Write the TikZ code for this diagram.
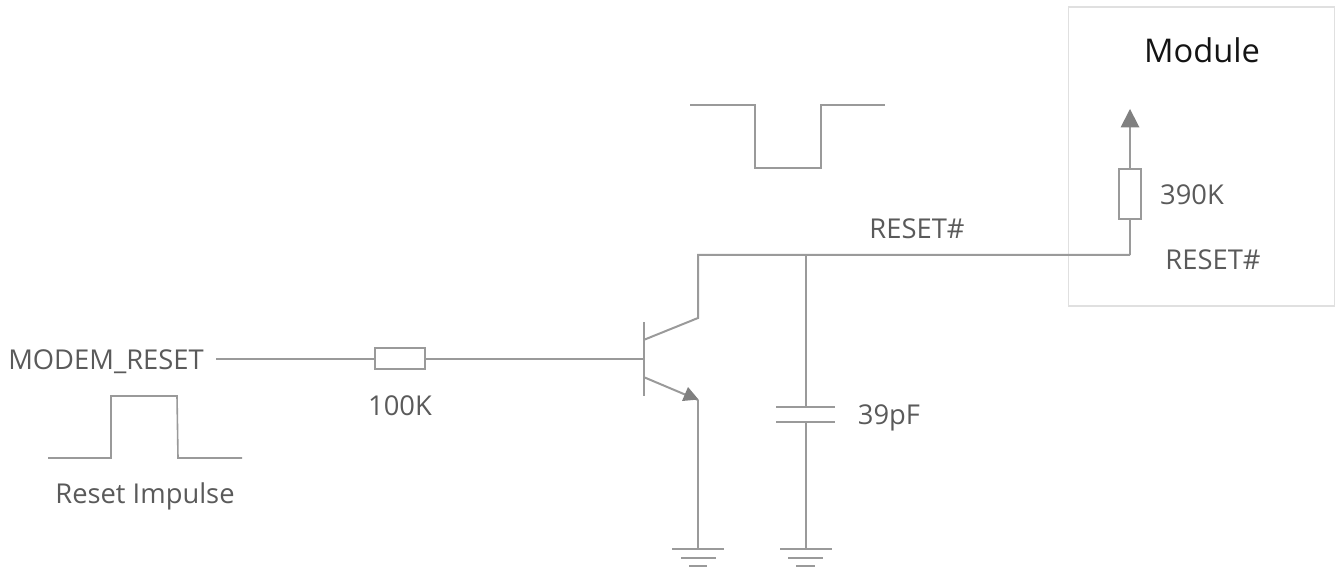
\documentclass[tikz,border=0pt]{standalone}
\usepackage{fontspec}
\setmainfont{Open Sans}
\begin{document}
\begin{tikzpicture}[x=0.75pt,y=-0.75pt,
  wire/.style={draw=wireclr,line width=1.5pt,line join=miter},
  thinwire/.style={draw=wireclr,line width=1.2pt},
  res/.style={draw=wireclr,line width=1.2pt,fill=white,rectangle,inner sep=0pt,minimum width=#1},
  lbl/.style={text=lblclr,font=\fontsize{20.5}{24}\selectfont,inner sep=0pt,anchor=base},
  tip/.style={draw=none,fill=tipclr}]
\definecolor{wireclr}{HTML}{9A9A9A}
\definecolor{tipclr}{HTML}{808080}
\definecolor{lblclr}{HTML}{5A5A5A}
\useasboundingbox (0,0) rectangle (1338,570);
% module box
\node[draw=black!12,line width=1.2pt,minimum width=199.5pt,minimum height=224.25pt,inner sep=0pt,anchor=north west] (box) at (1067.5,6) {};
\node[lbl,text=black!92,font=\fontsize{24.5}{28}\selectfont] (modt) at (1202,63) {Module};
% labels
\node[lbl,anchor=base west] (mr) at (8,369) {MODEM\_RESET};
\node[lbl] (l100) at (400,415) {100K};
\node[lbl] (imp) at (145,503) {Reset Impulse};
\node[lbl] (l39) at (889,424) {39pF};
\node[lbl] (rs1) at (917,239) {RESET\#};
\node[lbl] (rs2) at (1213,270) {RESET\#};
\node[lbl] (l390) at (1192,205) {390K};
% input path
\coordinate (inS) at (216,358.5);
\coordinate (base) at (643.5,358.5);
\node[res=37.5pt,minimum height=16pt] (r1) at (400,358.5) {};
\draw[wire] (inS) -- (r1.west);
\draw[wire] (r1.east) -- (base);
% transistor
\coordinate (barT) at (643.5,322);
\coordinate (barB) at (643.5,396);
\coordinate (cBar) at (643.5,340);
\coordinate (eBar) at (643.5,377);
\coordinate (cK) at (698,318);
\coordinate (eK) at (698,400);
\coordinate (top) at (698,255);
\coordinate (junc) at (805.5,255);
\coordinate (rIn) at (1130,255);
\draw[wire] (barT) -- (barB);
\draw[wire] (cBar) -- (cK) -- (top) -- (junc) -- (rIn);
\draw[wire] (eBar) -- (eK);
\fill[tip] (698.5,399.5) -- (688,387) -- (682,401) -- cycle;
% emitter to ground
\coordinate (g1) at (698,549);
\draw[wire] (eK) -- (g1);
\draw[wire] (672,549) -- (724,549) (681,558) -- (716,558) (689,566) -- (707,566);
% capacitor
\coordinate (capT) at (805.5,407);
\coordinate (capB) at (805.5,421.5);
\coordinate (g2) at (805.5,549);
\draw[wire] (junc) -- (capT);
\draw[wire] (776,407) -- (835,407) (776,421.5) -- (835,421.5);
\draw[wire] (capB) -- (g2);
\draw[wire] (780,549) -- (832,549) (788,558) -- (823,558) (796,566) -- (815,566);
% module resistor
\node[res=16.5pt,minimum height=37.5pt] (r2) at (1130,194) {};
\coordinate (tipT) at (1130,109);
\draw[wire] (rIn) -- (r2.south);
\draw[wire] (r2.north) -- (1130,127);
\fill[tip] (tipT) -- (1120.5,127.5) -- (1139.5,127.5) -- cycle;
% pulses
\draw[thinwire] (48,458) -- (111,458) -- (111,396) -- (177,396) -- (178,458) -- (242,458);
\draw[thinwire] (690,105) -- (755,105) -- (755,168) -- (821,168) -- (821,105) -- (885,105);
\end{tikzpicture}
\end{document}
